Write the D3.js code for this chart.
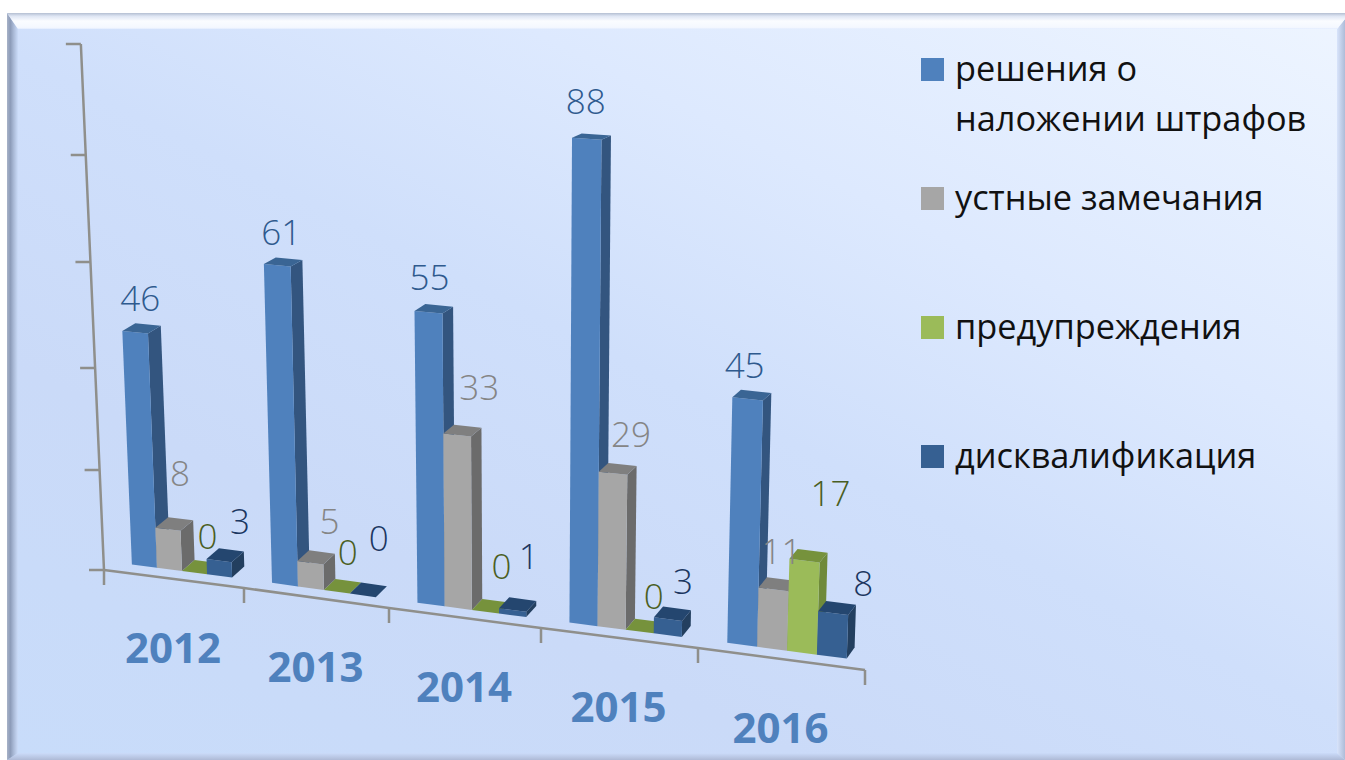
<!DOCTYPE html>
<html>
<head>
<meta charset="utf-8">
<style>
  html, body { margin: 0; padding: 0; background: #fff; }
  svg { display: block; }
  text { font-family: "Open Sans", "DejaVu Sans", sans-serif; }
</style>
</head>
<body>
<div class="chart"></div>
<script src="https://d3js.org/d3.v7.min.js"></script>
<script>
  const years = ['2012', '2013', '2014', '2015', '2016'];
  const seriesNames = ['решения о наложении штрафов', 'устные замечания', 'предупреждения', 'дисквалификация'];
  const fines = [46, 61, 55, 88, 45];
  const remarks = [8, 5, 33, 29, 11];
  const warnings = [0, 0, 0, 0, 17];
  const bans = [3, 0, 1, 3, 8];
  const valueTicks = [0, 20, 40, 60, 80, 100];
  const seriesValues = [fines, remarks, warnings, bans];

  const colors = [
    { front: '#4f81bd', side: '#33557f', top: '#3a6594', label: '#2f5a8e' },
    { front: '#a6a6a6', side: '#6b6b6b', top: '#7f7f7f', label: '#858585' },
    { front: '#9bbb59', side: '#6f8a3a', top: '#76923c', label: '#4a5e22' },
    { front: '#366092', side: '#233f5f', top: '#24466f', label: '#1b3660' }
  ];

  // label offsets from the front top centre of each bar, the original chart nudged them by hand
  const labelNudge = [
    [[5, -34], [4, -33], [1, -35], [-1, -37], [-3, -34]],
    [[12, -56], [19, -41], [22, -47], [18, -39], [8, -38]],
    [[13, -36], [11, -39], [16, -45], [14, -35], [26, -67]],
    [[21, -39], [16, -57], [16, -54], [15, -38], [30, -30]]
  ];

  const width = 1345, height = 760;
  const svg = d3.select('.chart').append('svg').attr('width', width).attr('height', height);

  // floor of the tilted chart: position along the category axis -> screen
  const xBase = d3.scaleLinear().domain(d3.range(6)).range([104, 244, 389, 541, 698, 865]);
  const yBase = d3.scaleLinear().domain(d3.range(6)).range([570, 588, 608, 628, 648, 670]);
  // value -> height in px, bars get a little taller to the right
  const hScale = d3.scaleLinear().domain(valueTicks).range([0, 100, 202, 308, 415, 526]);
  const grow = d3.scaleLinear().domain([0, 5]).range([0.995, 1.09]);
  const lean = d3.scaleLinear().domain([0, 5]).range([-0.044, 0.0335]);
  const depthX = d3.scaleLinear().domain([0, 5]).range([13.2, 7.7]);
  const depthY = d3.scaleLinear().domain([0, 500]).range([-11, -4]);
  const floorGap = 9;

  const groupBand = d3.scaleBand().domain(years).range([0.06, 5.03]).paddingInner(0.28).paddingOuter(0.14);
  const barBand = d3.scaleBand().domain(d3.range(4)).range([0, groupBand.bandwidth()]);

  function front(u, v) {
    const H = hScale(v) * grow(u);
    return [xBase(u) + lean(u) * H, yBase(u) - floorGap - H];
  }
  function back(u, v) {
    const H = hScale(v) * grow(u);
    const p = front(u, v);
    return [p[0] + depthX(u), p[1] + depthY(H)];
  }
  const poly = pts => pts.map(p => p.join(',')).join(' ');

  // background
  const defs = svg.append('defs');
  function gradient(id, x1, y1, x2, y2, stops) {
    const g = defs.append('linearGradient').attr('id', id)
      .attr('gradientUnits', 'userSpaceOnUse')
      .attr('x1', x1).attr('y1', y1).attr('x2', x2).attr('y2', y2);
    stops.forEach(s => g.append('stop').attr('offset', s[0]).attr('stop-color', s[1]));
  }
  gradient('bg', 263, -526, -300, 601, [[0, '#eef5ff'], [0.3, '#dde9fe'], [0.5, '#cfdffb'], [0.72, '#cadaf8'], [1, '#c8dcfa']]);
  gradient('bevelTop', 0, 13, 0, 29, [[0, '#b4bfd2'], [0.2, '#dfe6f4'], [0.5, '#fafcff'], [0.9, '#f4f8ff'], [1, '#e2ecfe']]);
  gradient('bevelLeft', 7, 0, 18, 0, [[0, '#a8b3c8'], [0.3, '#8c9bb8'], [0.6, '#a9b9d6'], [1, '#cbdcf9']]);
  gradient('bevelRight', 1337, 0, 1345, 0, [[0, '#d8e4fb'], [1, '#aebcd8']]);
  gradient('bevelBottom', 0, 753, 0, 760, [[0, '#cbdbf9'], [1, '#aebad6']]);

  svg.append('rect').attr('x', 7).attr('y', 13).attr('width', width - 7).attr('height', height - 13).attr('fill', 'url(#bg)');
  svg.append('polygon').attr('points', '7,760 18,753 1337,753 1345,760').attr('fill', 'url(#bevelBottom)');
  svg.append('polygon').attr('points', '7,13 18,29 18,753 7,760').attr('fill', 'url(#bevelLeft)');
  svg.append('polygon').attr('points', '1345,19 1337,29 1337,753 1345,760').attr('fill', 'url(#bevelRight)');
  svg.append('polygon').attr('points', '7,13 1345,13 1345,19 1337,29 18,29').attr('fill', 'url(#bevelTop)');

  // axes
  const axisColor = '#8f8f8b';
  const axis = svg.append('g').attr('stroke', axisColor).attr('stroke-width', 2.5).attr('fill', 'none');
  const axisPoint = v => [xBase(0) + lean(0) * hScale(v), yBase(0) - hScale(v)];
  axis.append('path').attr('d', d3.line()(valueTicks.map(axisPoint)));
  axis.selectAll('.ytick').data(valueTicks).join('line')
    .attr('class', 'ytick')
    .attr('x1', d => axisPoint(d)[0] - 15)
    .attr('x2', d => axisPoint(d)[0])
    .attr('y1', d => axisPoint(d)[1])
    .attr('y2', d => axisPoint(d)[1]);
  axis.append('path').attr('d', d3.line()(d3.range(6).map(u => [xBase(u), yBase(u)])));
  axis.selectAll('.xtick').data(d3.range(6)).join('line')
    .attr('class', 'xtick')
    .attr('x1', d => xBase(d)).attr('x2', d => xBase(d))
    .attr('y1', d => yBase(d)).attr('y2', d => yBase(d) + 15);

  // bars, left to right so that each one covers the side of the previous
  const bars = svg.append('g');
  years.forEach((year, i) => {
    seriesValues.forEach((values, s) => {
      const v = values[i];
      const u0 = groupBand(year) + barBand(s);
      const u1 = u0 + barBand.bandwidth();
      const c = colors[s];
      if (v > 0) {
        bars.append('polygon')
          .attr('points', poly([front(u1, 0), front(u1, v), back(u1, v), back(u1, 0)]))
          .attr('fill', c.side);
        bars.append('polygon')
          .attr('points', poly([front(u0, 0), front(u1, 0), front(u1, v), front(u0, v)]))
          .attr('fill', c.front);
      }
      bars.append('polygon')
        .attr('points', poly([front(u0, v), front(u1, v), back(u1, v), back(u0, v)]))
        .attr('fill', c.top);
    });
  });

  // value labels
  const labels = svg.append('g')
    .attr('text-anchor', 'middle')
    .style('font-size', '35px')
    .style('font-weight', 300);
  years.forEach((year, i) => {
    seriesValues.forEach((values, s) => {
      const u = groupBand(year) + barBand(s) + barBand.bandwidth() / 2;
      const p = front(u, values[i]);
      labels.append('text')
        .attr('x', p[0] + labelNudge[s][i][0])
        .attr('y', p[1] + labelNudge[s][i][1])
        .attr('dy', '0.36em')
        .attr('fill', colors[s].label)
        .text(values[i]);
    });
  });

  // years under the axis
  svg.append('g').selectAll('text').data(years).join('text')
    .attr('x', (d, i) => xBase(i + 0.5) - 1)
    .attr('y', (d, i) => yBase(i + 0.5) + 69)
    .attr('dy', '0.36em')
    .attr('text-anchor', 'middle')
    .attr('fill', '#4f81bd')
    .style('font-size', '42px')
    .style('font-weight', 700)
    .text(d => d);

  // legend
  const legendY = d3.scalePoint().domain(d3.range(4)).range([58, 445]);
  const legend = svg.append('g').selectAll('g').data(seriesNames).join('g')
    .attr('transform', (d, i) => `translate(921,${legendY(i)})`);
  legend.append('rect')
    .attr('width', 23).attr('height', 23)
    .attr('fill', (d, i) => colors[i].front);
  legend.each(function (d, i) {
    const g = d3.select(this);
    const lines = i === 0 ? ['решения о', 'наложении штрафов'] : [d];
    lines.forEach((line, j) => {
      g.append('text')
        .attr('x', 34)
        .attr('y', 23 + j * 50)
        .attr('fill', '#111')
        .style('font-size', '34.3px')
        .text(line);
    });
  });
</script>
</body>
</html>
